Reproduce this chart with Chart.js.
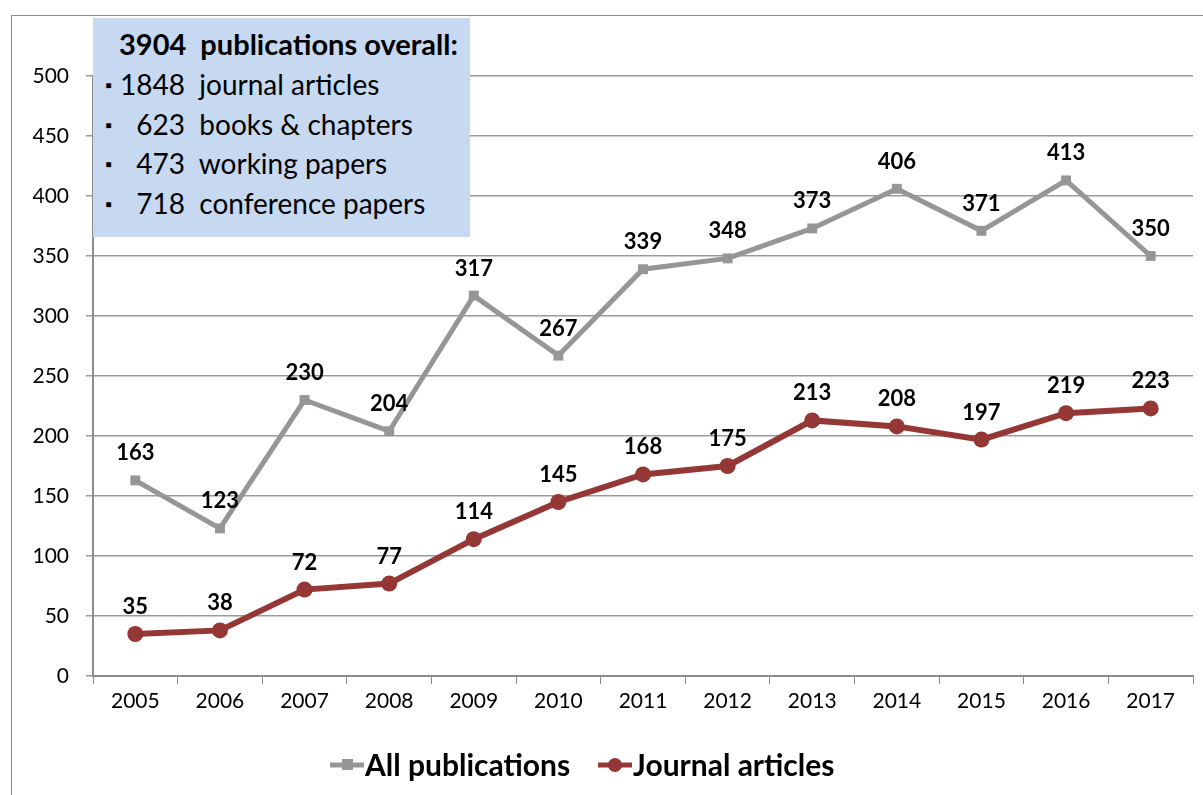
<!DOCTYPE html>
<html>
<head>
<meta charset="utf-8">
<script src="https://cdn.jsdelivr.net/npm/chart.js@4"></script>
<style>
  body { margin: 0; background: #fff; }
  #wrap { position: relative; width: 1203px; height: 795px; overflow: hidden; }
  #frame { position: absolute; left: 11px; top: 15px; width: 1300px; height: 900px;
           border-left: 1px solid #8c8c8c; border-top: 1px solid #8c8c8c; }
  #summary { position: absolute; left: 93px; top: 18px; width: 377px; height: 219px;
             background: #c6d9f0; font-family: Lato, "Open Sans", sans-serif; font-size: 28px;
             color: #000; }
  #summary .head { position: absolute; left: 26px; top: 8px; font-weight: bold; font-size: 29px; white-space: pre; }
  #summary .row { position: absolute; left: 12px; white-space: pre; }
  #summary .row .b { display: inline-block; width: 14px; font-size: 18px; vertical-align: 3px; }
  #summary .row .n { display: inline-block; width: 66px; text-align: right; }
  canvas { position: absolute; left: 0; top: 0; }
</style>
</head>
<body>
<div id="wrap">
  <div id="frame"></div>
  <canvas id="myChart" width="1203" height="795"></canvas>
  <div id="summary">
    <div class="head">3904  publications overall:</div>
    <div class="row" style="top:49px"><span class="b">▪</span><span class="n">1848</span>  journal articles</div>
    <div class="row" style="top:89px"><span class="b">▪</span><span class="n">623</span>  books &amp; chapters</div>
    <div class="row" style="top:128px"><span class="b">▪</span><span class="n">473</span>  working papers</div>
    <div class="row" style="top:168px"><span class="b">▪</span><span class="n">718</span>  conference papers</div>
  </div>
</div>
<script>
const years = ['2005', '2006', '2007', '2008', '2009', '2010', '2011', '2012', '2013', '2014', '2015', '2016', '2017'];
const allPublications = [163, 123, 230, 204, 317, 267, 339, 348, 373, 406, 371, 413, 350];
const journalArticles = [35, 38, 72, 77, 114, 145, 168, 175, 213, 208, 197, 219, 223];
const yTicks = [0, 50, 100, 150, 200, 250, 300, 350, 400, 450, 500];

const grey = '#969696';
const red = '#953735';
const fontFamily = 'Lato, "Open Sans", sans-serif';

// value labels above every point
const valueLabels = {
    id: 'valueLabels',
    afterDatasetsDraw(chart) {
        const ctx = chart.ctx;
        ctx.save();
        ctx.font = 'bold 22px ' + fontFamily;
        ctx.fillStyle = '#000';
        ctx.textAlign = 'center';
        ctx.textBaseline = 'middle';
        chart.data.datasets.forEach(function (ds, i) {
            chart.getDatasetMeta(i).data.forEach(function (pt, j) {
                ctx.fillText(ds.data[j], pt.x, pt.y - 27);
            });
        });
        ctx.restore();
    }
};

// legend at the bottom, drawn like the original (line with marker)
const bottomLegend = {
    id: 'bottomLegend',
    afterDraw(chart) {
        const ctx = chart.ctx;
        const y = 765;
        const items = [
            { text: 'All publications', color: grey, x: 330, square: true },
            { text: 'Journal articles', color: red, x: 598, square: false }
        ];
        ctx.save();
        ctx.font = 'bold 30px ' + fontFamily;
        ctx.textBaseline = 'middle';
        items.forEach(function (it) {
            ctx.strokeStyle = it.color;
            ctx.fillStyle = it.color;
            ctx.lineWidth = 5;
            ctx.beginPath();
            ctx.moveTo(it.x, y);
            ctx.lineTo(it.x + 34, y);
            ctx.stroke();
            if (it.square) {
                ctx.fillRect(it.x + 12, y - 6, 11, 11);
            } else {
                ctx.beginPath();
                ctx.arc(it.x + 17, y, 7, 0, Math.PI * 2);
                ctx.fill();
            }
            ctx.fillStyle = '#000';
            ctx.fillText(it.text, it.x + 35, y + 1);
        });
        ctx.restore();
    }
};

const ctx = document.getElementById('myChart').getContext('2d');

const myChart = new Chart(ctx, {
    type: 'line',
    data: {
        labels: years,
        datasets: [{
            label: 'All publications',
            data: allPublications,
            borderColor: grey,
            backgroundColor: grey,
            borderWidth: 5,
            pointStyle: 'rect',
            pointRadius: 7,
            pointBorderWidth: 0,
            tension: 0
        }, {
            label: 'Journal articles',
            data: journalArticles,
            borderColor: red,
            backgroundColor: red,
            borderWidth: 6,
            pointStyle: 'circle',
            pointRadius: 8,
            pointBorderWidth: 0,
            tension: 0
        }]
    },
    options: {
        responsive: false,
        animation: false,
        layout: { padding: { left: 0, right: 10, top: 76, bottom: 0 } },
        plugins: {
            legend: { display: false },
            tooltip: { enabled: false }
        },
        scales: {
            x: {
                offset: true,
                grid: { offset: true, drawOnChartArea: false, color: '#8c8c8c', tickLength: 8, lineWidth: 1 },
                border: { color: '#8c8c8c', width: 2 },
                ticks: { color: '#000', font: { family: fontFamily, size: 21 }, padding: 5, maxRotation: 0 },
                afterFit(scale) { scale.height = 119; }
            },
            y: {
                min: 0,
                max: 500,
                afterBuildTicks(scale) { scale.ticks = yTicks.map(function (v) { return { value: v }; }); },
                grid: { color: '#9a9a9a', lineWidth: 1.5, tickLength: 7 },
                border: { color: '#8c8c8c', width: 2 },
                ticks: { color: '#000', font: { family: fontFamily, size: 21 }, padding: 17 },
                afterFit(scale) { scale.width = 93; }
            }
        }
    },
    plugins: [valueLabels, bottomLegend]
});
</script>
</body>
</html>
